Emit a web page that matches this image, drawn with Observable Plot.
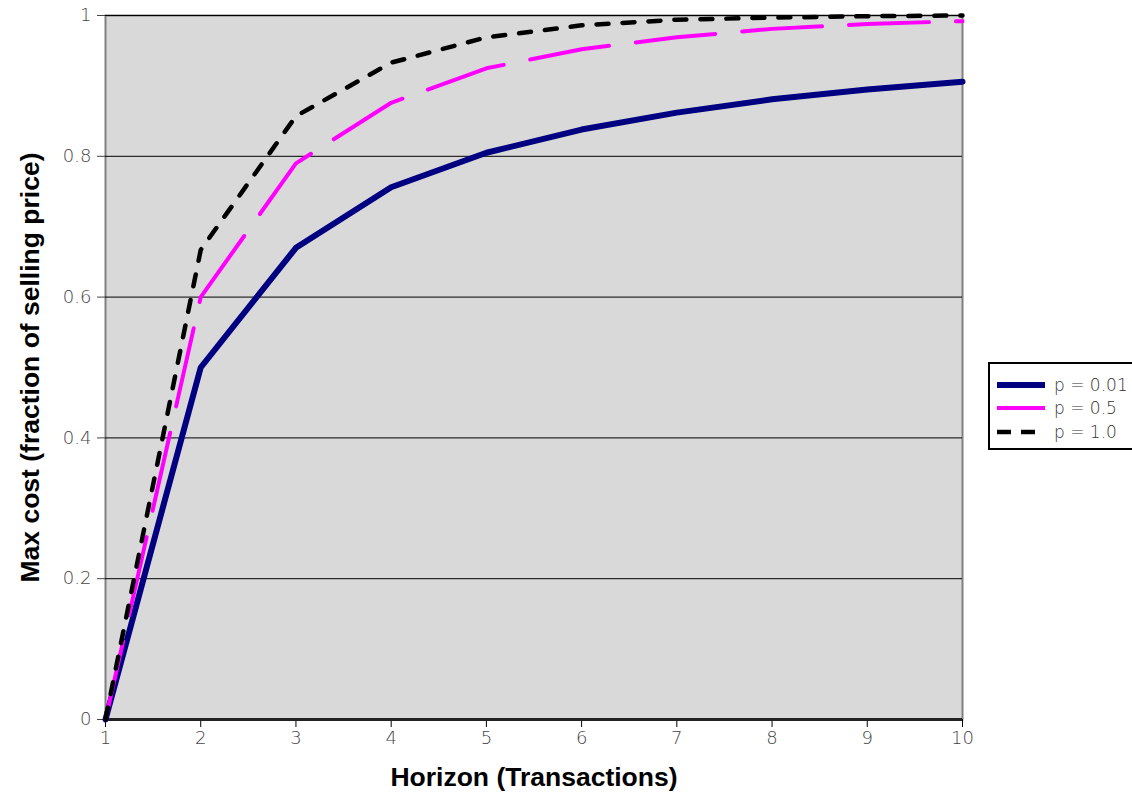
<!DOCTYPE html>
<html>
<head>
<meta charset="utf-8">
<script src="https://cdn.jsdelivr.net/npm/d3@7"></script>
<script src="https://cdn.jsdelivr.net/npm/@observablehq/plot@0.6"></script>
<style>
  body { margin: 0; background: #fff; overflow: hidden; }
  #wrap { position: relative; width: 1132px; height: 802px; overflow: hidden; }
  #wrap svg g[aria-label$="tick label"], #wrap svg g[aria-label$="tick label"] text {
    font-size: 18px !important; font-family: "DejaVu Sans", sans-serif !important; font-weight: 300; }
  #legend { position: absolute; left: 988px; top: 362px; width: 150px; height: 88px;
    border: 2px solid #000; background: #fff; font-family: "DejaVu Sans", sans-serif;
    font-weight: 300; font-size: 17px; color: #333; box-sizing: border-box; padding-top: 9px; }
  #legend .row { display: flex; align-items: center; height: 23.5px; }
  #legend svg { margin-left: 7px; margin-right: 9px; }
</style>
</head>
<body>
<div id="wrap"></div>
<script>
const horizon = [1, 2, 3, 4, 5, 6, 7, 8, 9, 10];
const p001 = [0, 0.5, 0.67, 0.756, 0.805, 0.838, 0.862, 0.881, 0.895, 0.906];
const p05  = [0, 0.6, 0.79, 0.876, 0.925, 0.952, 0.969, 0.981, 0.988, 0.992];
const p10  = [0, 0.667, 0.857, 0.933, 0.969, 0.986, 0.994, 0.997, 0.999, 1.0];
const seriesNames = ["p = 0.01", "p = 0.5", "p = 1.0"];
const xTicks = [1, 2, 3, 4, 5, 6, 7, 8, 9, 10];
const yTicks = [0, 0.2, 0.4, 0.6, 0.8, 1];

const d001 = horizon.map((h, i) => ({h, v: p001[i]}));
const d05 = horizon.map((h, i) => ({h, v: p05[i]}));
const d10 = horizon.map((h, i) => ({h, v: p10[i]}));

const chart = Plot.plot({
  width: 1132,
  height: 802,
  marginLeft: 105,
  marginRight: 170,
  marginTop: 15,
  marginBottom: 83,
  style: {fontFamily: "DejaVu Sans, sans-serif", fontSize: "18px", background: "#fff", overflow: "visible"},
  x: {domain: [1, 10]},
  y: {domain: [0, 1]},
  marks: [
    Plot.frame({fill: "#d9d9d9", stroke: "#808080", strokeWidth: 2}),
    Plot.gridY(yTicks, {stroke: "#000", strokeOpacity: 1, strokeWidth: 1}),
    Plot.axisY(yTicks, {tickSize: 8, tickPadding: 6, label: null, fontSize: 18, color: "#444", tickFormat: d => String(d), stroke: "#444"}),
    Plot.axisX(xTicks, {tickSize: 8, tickPadding: 4, label: null, fontSize: 18, color: "#444", stroke: "#000"}),
    Plot.ruleY([0], {stroke: "#222", strokeWidth: 3}),
    Plot.lineY(d001, {x: "h", y: "v", stroke: "#000080", strokeWidth: 6}),
    Plot.lineY(d05, {x: "h", y: "v", stroke: "#ff00ff", strokeWidth: 4, strokeDasharray: "80,27"}),
    Plot.lineY(d10, {x: "h", y: "v", stroke: "#000", strokeWidth: 4.5, strokeDasharray: "12,14"}),
    Plot.text(["Max cost (fraction of selling price)"], {frameAnchor: "left", dx: -75, rotate: -90, textAnchor: "middle", fontSize: 26.5, fontWeight: "bold", fontFamily: "Liberation Sans, Arial, sans-serif", fill: "#000"}),
    Plot.text(["Horizon (Transactions)"], {frameAnchor: "bottom", dy: 66, fontSize: 26.5, fontWeight: "bold", fontFamily: "Liberation Sans, Arial, sans-serif", fill: "#000"})
  ]
});
const wrap = document.getElementById("wrap");
wrap.appendChild(chart);

const legend = document.createElement("div");
legend.id = "legend";
const styles = [
  {stroke: "#000080", w: 6, dash: ""},
  {stroke: "#ff00ff", w: 4, dash: ""},
  {stroke: "#000", w: 4.5, dash: "14,10"}
];
seriesNames.forEach((name, i) => {
  const s = styles[i];
  const row = document.createElement("div");
  row.className = "row";
  row.innerHTML = `<svg width="48" height="10"><line x1="0" y1="5" x2="48" y2="5" stroke="${s.stroke}" stroke-width="${s.w}" ${s.dash ? `stroke-dasharray="${s.dash}"` : ""}/></svg><span>${name}</span>`;
  legend.appendChild(row);
});
wrap.appendChild(legend);
</script>
</body>
</html>
